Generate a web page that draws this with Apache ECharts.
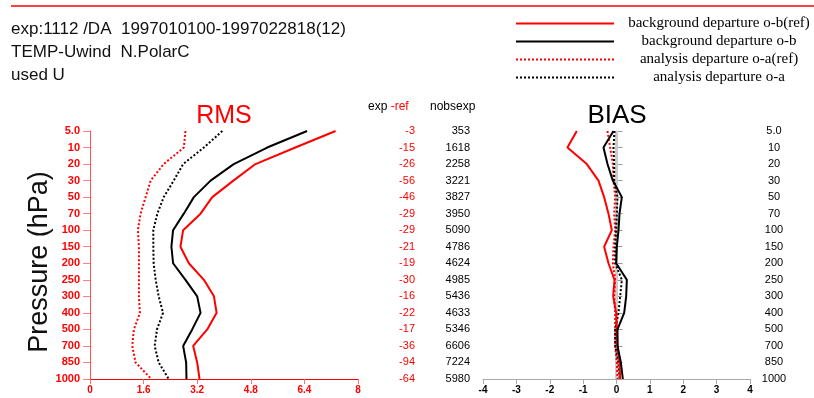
<!DOCTYPE html>
<html>
<head>
<meta charset="utf-8">
<script src="https://cdn.jsdelivr.net/npm/echarts@6/dist/echarts.min.js"></script>
<style>
  html, body { margin: 0; padding: 0; background: #fff; }
  #chart { width: 814px; height: 398px; }
</style>
</head>
<body>
<div id="chart"></div>
<script>
// Pressure levels (hPa), top of the profile first
const levels = ['5.0', '10', '20', '30', '50', '70', '100', '150', '200', '250', '300', '400', '500', '700', '850', '1000'];

// RMS profiles (m/s)
const rmsObRef = [7.33, 6.13, 4.94, 4.28, 3.65, 3.30, 2.78, 2.70, 2.95, 3.40, 3.70, 3.78, 3.50, 3.08, 3.20, 3.27];
const rmsOb    = [6.48, 5.29, 4.29, 3.60, 3.10, 2.80, 2.48, 2.43, 2.48, 2.85, 3.20, 3.30, 3.05, 2.78, 2.87, 2.88];
const rmsOaRef = [2.85, 2.80, 2.20, 1.81, 1.66, 1.51, 1.43, 1.46, 1.46, 1.46, 1.46, 1.49, 1.31, 1.26, 1.36, 1.83];
const rmsOa    = [3.95, 3.40, 2.78, 2.50, 2.20, 2.01, 1.89, 1.89, 1.90, 1.96, 2.05, 2.18, 2.00, 1.93, 2.05, 2.35];

// BIAS profiles (m/s)
const biasObRef = [-1.19, -1.47, -0.89, -0.54, -0.37, -0.24, -0.14, -0.37, -0.24, -0.06, -0.10, -0.01, 0.01, 0.03, 0.09, 0.11];
const biasOb    = [-0.09, -0.39, -0.27, -0.11, 0.16, 0.09, 0.06, 0.01, -0.01, 0.31, 0.29, 0.23, 0.03, 0.03, 0.13, 0.19];
const biasOaRef = [-0.27, -0.19, -0.11, -0.09, -0.04, -0.07, -0.04, -0.09, -0.11, -0.04, -0.07, -0.04, -0.04, -0.04, 0.01, 0.03];
const biasOa    = [-0.06, -0.09, -0.07, -0.07, 0.03, 0.01, -0.01, -0.04, -0.04, 0.16, 0.11, 0.06, -0.04, -0.04, 0.06, 0.09];

// Observation counts per level
const expMinusRef = [-3, -15, -26, -56, -46, -29, -29, -21, -19, -30, -16, -22, -17, -36, -94, -64];
const nobsExp     = [353, 1618, 2258, 3221, 3827, 3950, 5090, 4786, 4624, 4985, 5436, 4633, 5346, 6606, 7224, 5980];

// Axis ticks
const rmsTicks = { min: 0, max: 8, interval: 1.6 };
const biasTicks = { min: -4, max: 4, interval: 1 };

const names = {
  obRef: 'background departure o-b(ref)',
  ob: 'background departure o-b',
  oaRef: 'analysis departure o-a(ref)',
  oa: 'analysis departure o-a'
};

const RED = '#ff0000';
const SANS = '"Liberation Sans", Arial, sans-serif';
const SERIF = '"Liberation Serif", "DejaVu Serif", serif';

const pair = arr => arr.map((v, i) => [v, levels[i]]);

function profile(name, values, color, dotted, axisIdx, extra) {
  return Object.assign({
    name: name,
    type: 'line',
    xAxisIndex: axisIdx,
    yAxisIndex: axisIdx,
    data: pair(values),
    symbol: 'none',
    showSymbol: false,
    smooth: false,
    animation: false,
    lineStyle: { color: color, width: 2, type: dotted ? [2, 2] : 'solid' },
    itemStyle: { color: color },
    z: dotted ? 3 : 4
  }, extra || {});
}

const chart = echarts.init(document.getElementById('chart'), null, { renderer: 'canvas' });

const option = {
  animation: false,
  backgroundColor: '#fff',
  textStyle: { fontFamily: SANS },
  grid: [
    { left: 90, top: 131, width: 268, height: 248 },
    { left: 483, top: 131, width: 267, height: 248 }
  ],
  legend: {
    orient: 'vertical',
    left: 510,
    top: 11,
    itemWidth: 98,
    itemHeight: 14,
    itemGap: 3,
    data: [names.obRef, names.ob, names.oaRef, names.oa],
    itemStyle: { opacity: 0 },
    formatter: n => '{t|' + n + '}',
    textStyle: {
      rich: {
        t: { width: 200, align: 'center', fontFamily: SERIF, fontSize: 15, lineHeight: 17, color: '#000' }
      }
    },
    selectedMode: false
  },
  xAxis: [
    {
      gridIndex: 0, type: 'value',
      min: rmsTicks.min, max: rmsTicks.max, interval: rmsTicks.interval,
      axisLine: { show: true, lineStyle: { color: RED, width: 1 } },
      axisTick: { show: true, length: 5, lineStyle: { color: '#ff7070' } },
      axisLabel: {
        color: RED, fontSize: 10, fontWeight: 'bold', margin: 6,
        formatter: v => String(Math.round(v * 10) / 10)
      },
      splitLine: { show: false }
    },
    {
      gridIndex: 1, type: 'value',
      min: biasTicks.min, max: biasTicks.max, interval: biasTicks.interval,
      axisLine: { show: true, lineStyle: { color: '#aaaaaa', width: 1 } },
      axisTick: { show: true, length: 5, lineStyle: { color: '#aaaaaa' } },
      axisLabel: { color: '#000', fontSize: 10, fontWeight: 'bold', margin: 6 },
      splitLine: { show: false }
    }
  ],
  yAxis: [
    {
      gridIndex: 0, type: 'category', data: levels, inverse: true, boundaryGap: false,
      axisLine: { show: true, lineStyle: { color: '#ff5050', width: 1 } },
      axisTick: { show: true, length: 7, interval: 0, lineStyle: { color: '#ff8080' } },
      axisLabel: { color: RED, fontSize: 11, fontWeight: 'bold', margin: 10, interval: 0 },
      splitLine: { show: false }
    },
    {
      gridIndex: 1, type: 'category', data: levels, inverse: true, boundaryGap: false,
      position: 'right',
      axisLine: { show: true, lineStyle: { color: '#aaaaaa', width: 1 } },
      axisTick: { show: true, length: 6, interval: 0, lineStyle: { color: '#999999' } },
      axisLabel: { color: '#000', fontSize: 11, margin: 24, align: 'center', interval: 0 },
      splitLine: { show: false }
    },
    {
      // exp - ref count column
      gridIndex: 0, type: 'category', data: levels, inverse: true, boundaryGap: false,
      position: 'right',
      axisLine: { show: false }, axisTick: { show: false },
      axisLabel: {
        color: RED, fontSize: 11, margin: 57, align: 'right', interval: 0,
        formatter: (v, i) => String(expMinusRef[i])
      },
      splitLine: { show: false }
    },
    {
      // observation count column
      gridIndex: 0, type: 'category', data: levels, inverse: true, boundaryGap: false,
      position: 'right',
      axisLine: { show: false }, axisTick: { show: false },
      axisLabel: {
        color: '#000', fontSize: 11, margin: 112, align: 'right', interval: 0,
        formatter: (v, i) => String(nobsExp[i])
      },
      splitLine: { show: false }
    }
  ],
  series: [
    profile(names.obRef, rmsObRef, RED, false, 0),
    profile(names.ob, rmsOb, '#000', false, 0),
    profile(names.oaRef, rmsOaRef, RED, true, 0),
    profile(names.oa, rmsOa, '#000', true, 0),
    profile(names.obRef, biasObRef, RED, false, 1, {
      markLine: {
        silent: true, symbol: 'none', label: { show: false },
        lineStyle: { color: '#cccccc', width: 3, type: 'solid' },
        data: [{ xAxis: 0 }], z: 1
      }
    }),
    profile(names.ob, biasOb, '#000', false, 1),
    profile(names.oaRef, biasOaRef, RED, true, 1),
    profile(names.oa, biasOa, '#000', true, 1)
  ],
  graphic: [
    { type: 'line', shape: { x1: 11, y1: 6, x2: 814, y2: 6 }, style: { stroke: RED, lineWidth: 1.5 } },
    { type: 'text', left: 11, top: 21, style: { text: 'exp:1112 /DA  1997010100-1997022818(12)', font: '17px ' + SANS, fill: '#111' } },
    { type: 'text', left: 11, top: 44, style: { text: 'TEMP-Uwind  N.PolarC', font: '17px ' + SANS, fill: '#111' } },
    { type: 'text', left: 11, top: 67, style: { text: 'used U', font: '17px ' + SANS, fill: '#111' } },
    {
      type: 'text', x: 40, y: 262, rotation: Math.PI / 2,
      style: { text: 'Pressure (hPa)', font: '27px ' + SANS, fill: '#111', align: 'center', verticalAlign: 'middle' }
    },
    { type: 'text', x: 224, y: 116, style: { text: 'RMS', font: '25px ' + SANS, fill: RED, align: 'center', verticalAlign: 'middle' } },
    { type: 'text', x: 617, y: 116, style: { text: 'BIAS', font: '26px ' + SANS, fill: '#000', align: 'center', verticalAlign: 'middle' } },
    {
      type: 'text', x: 368, y: 107,
      style: {
        text: '{a|exp }{b|-ref}', verticalAlign: 'middle',
        rich: { a: { fill: '#000', font: '12px ' + SANS }, b: { fill: RED, font: '12px ' + SANS } }
      }
    },
    { type: 'text', x: 430, y: 107, style: { text: 'nobsexp', font: '12px ' + SANS, fill: '#000', verticalAlign: 'middle' } }
  ]
};

chart.setOption(option);
</script>
</body>
</html>
